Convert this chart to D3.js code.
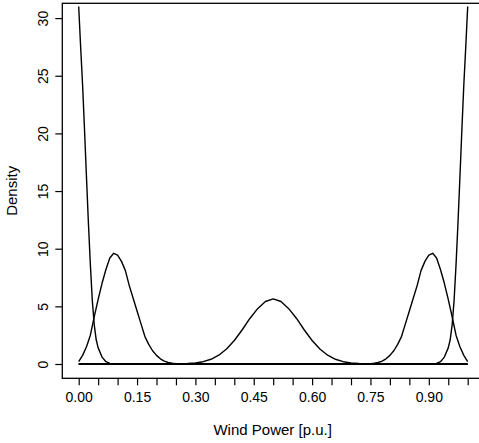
<!DOCTYPE html>
<html>
<head>
<meta charset="utf-8">
<script src="https://cdn.jsdelivr.net/npm/d3@7"></script>
<style>
  body { margin: 0; background: #fff; }
  text { font-family: "Liberation Sans", Arial, sans-serif; fill: #000; }
</style>
</head>
<body>
<svg id="canvas"></svg>
<script>
// values
const spikeLeftX = [0, 0.005, 0.01, 0.015, 0.02, 0.025, 0.03, 0.035, 0.04, 0.045, 0.05, 0.06, 0.07, 0.08, 0.09, 1];
const spikeLeftY = [31, 27.5, 24.2, 20.3, 16.2, 12.2, 8.6, 5.5, 3.4, 2.1, 1.4, 0.6, 0.2, 0.05, 0, 0];

const peakLeftX = [0, 0.01, 0.02, 0.03, 0.04, 0.05, 0.06, 0.07, 0.08, 0.09, 0.10, 0.11, 0.12, 0.13, 0.14,
  0.15, 0.16, 0.17, 0.18, 0.19, 0.20, 0.21, 0.22, 0.23, 0.24, 0.25, 0.26, 0.28, 1];
const peakLeftY = [0.2, 0.75, 1.5, 2.5, 4.1, 5.6, 7.0, 8.2, 9.2, 9.6, 9.45, 8.9, 8.1, 6.8, 5.7,
  4.6, 3.5, 2.4, 1.7, 1.15, 0.75, 0.45, 0.25, 0.13, 0.06, 0.03, 0.02, 0, 0];

const peakMidX = [0, 0.24, 0.26, 0.28, 0.30, 0.32, 0.34, 0.36, 0.38, 0.40, 0.42, 0.44, 0.46, 0.48, 0.50,
  0.52, 0.54, 0.56, 0.58, 0.60, 0.62, 0.64, 0.66, 0.68, 0.70, 0.72, 0.74, 0.76, 1];
const peakMidY = [0, 0, 0.015, 0.04, 0.09, 0.2, 0.41, 0.76, 1.3, 2.04, 2.95, 3.95, 4.8, 5.42, 5.65,
  5.42, 4.8, 3.95, 2.95, 2.04, 1.3, 0.76, 0.41, 0.2, 0.09, 0.04, 0.015, 0, 0];

const peakRightX = [0, 0.72, 0.74, 0.75, 0.76, 0.77, 0.78, 0.79, 0.80, 0.81, 0.82, 0.83, 0.84, 0.85, 0.86,
  0.87, 0.88, 0.89, 0.90, 0.91, 0.92, 0.93, 0.94, 0.95, 0.96, 0.97, 0.98, 0.99, 1.00];
const peakRightY = [0, 0, 0.02, 0.03, 0.06, 0.13, 0.25, 0.45, 0.75, 1.15, 1.7, 2.4, 3.5, 4.6, 5.7,
  6.8, 8.1, 8.9, 9.45, 9.6, 9.2, 8.2, 7.0, 5.6, 4.1, 2.5, 1.5, 0.75, 0.2];

const spikeRightX = [0, 0.91, 0.92, 0.93, 0.94, 0.95, 0.955, 0.96, 0.965, 0.97, 0.975, 0.98, 0.985, 0.99, 0.995, 1];
const spikeRightY = [0, 0, 0.05, 0.2, 0.6, 1.4, 2.1, 3.4, 5.5, 8.6, 12.2, 16.2, 20.3, 24.2, 27.5, 31];

const xTicks = d3.range(0, 21).map(i => i * 0.05);
const xLabels = ["0.00", "0.15", "0.30", "0.45", "0.60", "0.75", "0.90"];
const yTicks = [0, 5, 10, 15, 20, 25, 30];

const width = 479;
const height = 443;
const box = { left: 62.3, top: 3.3, right: 483, bottom: 378.3 };

const svg = d3.select("#canvas")
  .attr("width", width)
  .attr("height", height);

const x = d3.scaleLinear().domain([0, 1]).range([78.7, 467.7]);
const y = d3.scaleLinear().domain([0, 30]).range([364, 18.1]);

const series = [
  [spikeLeftX, spikeLeftY],
  [peakLeftX, peakLeftY],
  [peakMidX, peakMidY],
  [peakRightX, peakRightY],
  [spikeRightX, spikeRightY]
];

const line = d3.line()
  .x(d => x(d[0]))
  .y(d => y(d[1]));

series.forEach(([xs, ys]) => {
  svg.append("path")
    .datum(xs.map((v, i) => [v, ys[i]]))
    .attr("d", line)
    .attr("fill", "none")
    .attr("stroke", "#000")
    .attr("stroke-width", 1.4)
    .attr("stroke-linejoin", "round");
});

// plot box
svg.append("rect")
  .attr("x", box.left)
  .attr("y", box.top)
  .attr("width", box.right - box.left)
  .attr("height", box.bottom - box.top)
  .attr("fill", "none")
  .attr("stroke", "#000")
  .attr("stroke-width", 1.3);

// x axis
const xAxis = d3.axisBottom(x)
  .tickValues(xTicks)
  .tickSize(7)
  .tickPadding(7)
  .tickFormat(d => {
    const s = d3.format(".2f")(d);
    return xLabels.includes(s) ? s : "";
  });

const gx = svg.append("g")
  .attr("transform", `translate(0,${box.bottom})`)
  .call(xAxis);
gx.select(".domain").remove();
gx.selectAll("line").attr("stroke", "#000").attr("stroke-width", 1.2);
gx.selectAll("text").style("font-size", "14px").attr("fill", "#000");

// y axis
const yAxis = d3.axisLeft(y)
  .tickValues(yTicks)
  .tickSize(7)
  .tickFormat(d3.format("d"));

const gy = svg.append("g")
  .attr("transform", `translate(${box.left},0)`)
  .call(yAxis);
gy.select(".domain").remove();
gy.selectAll("line").attr("stroke", "#000").attr("stroke-width", 1.2);
gy.selectAll("text")
  .style("font-size", "14px")
  .attr("fill", "#000")
  .attr("x", 0)
  .attr("dy", 0)
  .attr("text-anchor", "middle")
  .attr("transform", "translate(-14,0) rotate(-90)")
  .attr("y", 0);

// fix rotated y labels to sit at their ticks
gy.selectAll(".tick text")
  .attr("transform", "rotate(-90)")
  .attr("x", 0)
  .attr("y", -14);

// axis titles
svg.append("text")
  .attr("x", (box.left + box.right) / 2)
  .attr("y", 435)
  .attr("text-anchor", "middle")
  .style("font-size", "15px")
  .text("Wind Power [p.u.]");

svg.append("text")
  .attr("transform", `translate(17,${(box.top + box.bottom) / 2}) rotate(-90)`)
  .attr("text-anchor", "middle")
  .style("font-size", "15px")
  .text("Density");
</script>
</body>
</html>
